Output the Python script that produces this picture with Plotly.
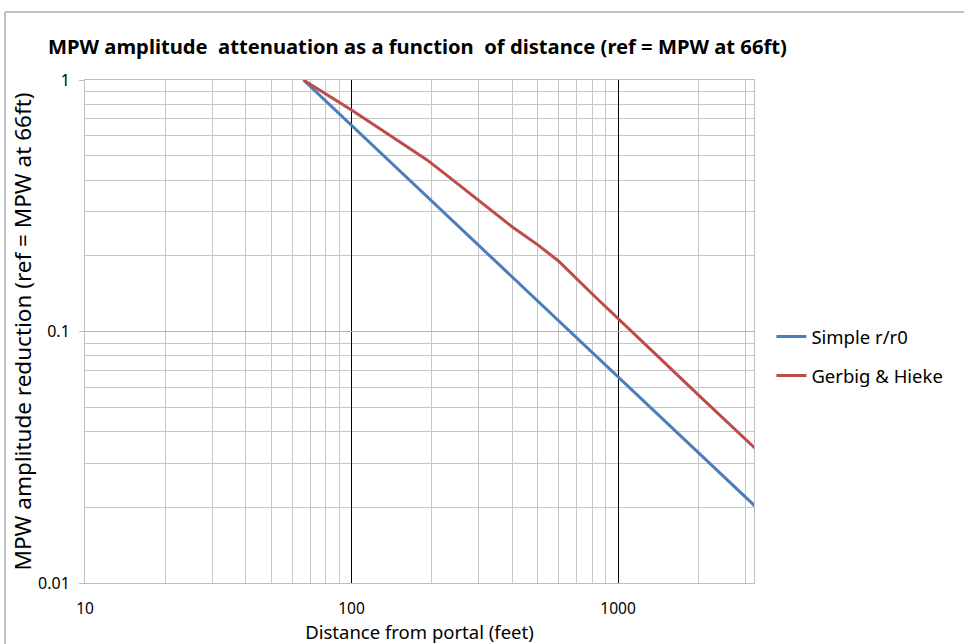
import plotly.graph_objects as go

# distance from portal (feet) and amplitude relative to MPW at 66 ft
dist_simple = [66, 100, 200, 300, 500, 1000, 2000, 3300]
amp_simple = [1.0, 0.66, 0.33, 0.22, 0.132, 0.066, 0.033, 0.02]

dist_gh = [66, 100, 148, 192, 235, 300, 400, 500, 600, 800, 1000, 1440, 2000, 3300]
amp_gh = [1.0, 0.76, 0.577, 0.481, 0.407, 0.333, 0.261, 0.221, 0.19, 0.141, 0.113, 0.078, 0.056, 0.034]

x_ticks = [10, 100, 1000]
x_labels = ["10", "100", "1000"]
y_ticks = [0.01, 0.1, 1]
y_labels = ["0.01", "0.1", "1"]

FONT = "Noto Sans"

fig = go.Figure()
fig.add_trace(go.Scatter(x=dist_simple, y=amp_simple, mode="lines", name="Simple r/r0",
                         legendgroup="a", line=dict(color="#4A7EBB", width=3)))
fig.add_trace(go.Scatter(x=dist_gh, y=amp_gh, mode="lines", name="Gerbig & Hieke",
                         legendgroup="b", line=dict(color="#BE4B48", width=3)))

fig.update_layout(
    width=964, height=644,
    margin=dict(l=85, r=210, t=80, b=61, autoexpand=False),
    paper_bgcolor="white", plot_bgcolor="white",
    font=dict(family=FONT, color="#000000", size=16),
    title=dict(text="<b>MPW amplitude  attenuation as a function  of distance (ref = MPW at 66ft)</b>",
               x=48 / 964, xref="container", xanchor="left", y=1 - 47 / 644, yanchor="middle",
               font=dict(size=20.2, family=FONT)),
    showlegend=True,
    legend=dict(x=1.026, xanchor="left", y=0.527, yanchor="top", tracegroupgap=12,
                font=dict(size=18.5, family=FONT), bgcolor="rgba(0,0,0,0)"),
    xaxis=dict(type="log", range=[1, 3.51], tickvals=x_ticks, ticktext=x_labels,
               showgrid=True, gridcolor="#000000", gridwidth=1,
               minor=dict(dtick="D1", showgrid=True, gridcolor="#c6c6c6", ticks=""),
               showline=True, linecolor="#bfbfbf", mirror=True, ticks="", ticklabelstandoff=11,
               zeroline=False, tickfont=dict(size=15.5), automargin=False,
               title=dict(text="Distance from portal (feet)", font=dict(size=18.5), standoff=5)),
    yaxis=dict(type="log", range=[-2, 0], tickvals=y_ticks, ticktext=y_labels,
               showgrid=True, gridcolor="#b4b4b4", gridwidth=1,
               minor=dict(dtick="D1", showgrid=True, gridcolor="#c6c6c6", ticks=""),
               showline=True, linecolor="#bfbfbf", mirror=True, ticks="outside", ticklen=5,
               tickcolor="#bfbfbf", zeroline=False, tickfont=dict(size=16), automargin=False,
               ticklabelstandoff=6,
               title=dict(text="MPW amplitude reduction (ref = MPW at 66ft)", font=dict(size=22.5), standoff=0)),
)

# chart area border like the spreadsheet frame
fig.add_shape(type="rect", xref="paper", yref="paper",
              x0=(5 - 85) / 669, x1=(990 - 85) / 669, y0=(583 - 680) / 503, y1=(583 - 12) / 503,
              line=dict(color="#868686", width=1), fillcolor="rgba(0,0,0,0)", layer="below")

fig.write_html("out.html", config={"displayModeBar": False},
               post_script="document.body.style.margin='0';")
